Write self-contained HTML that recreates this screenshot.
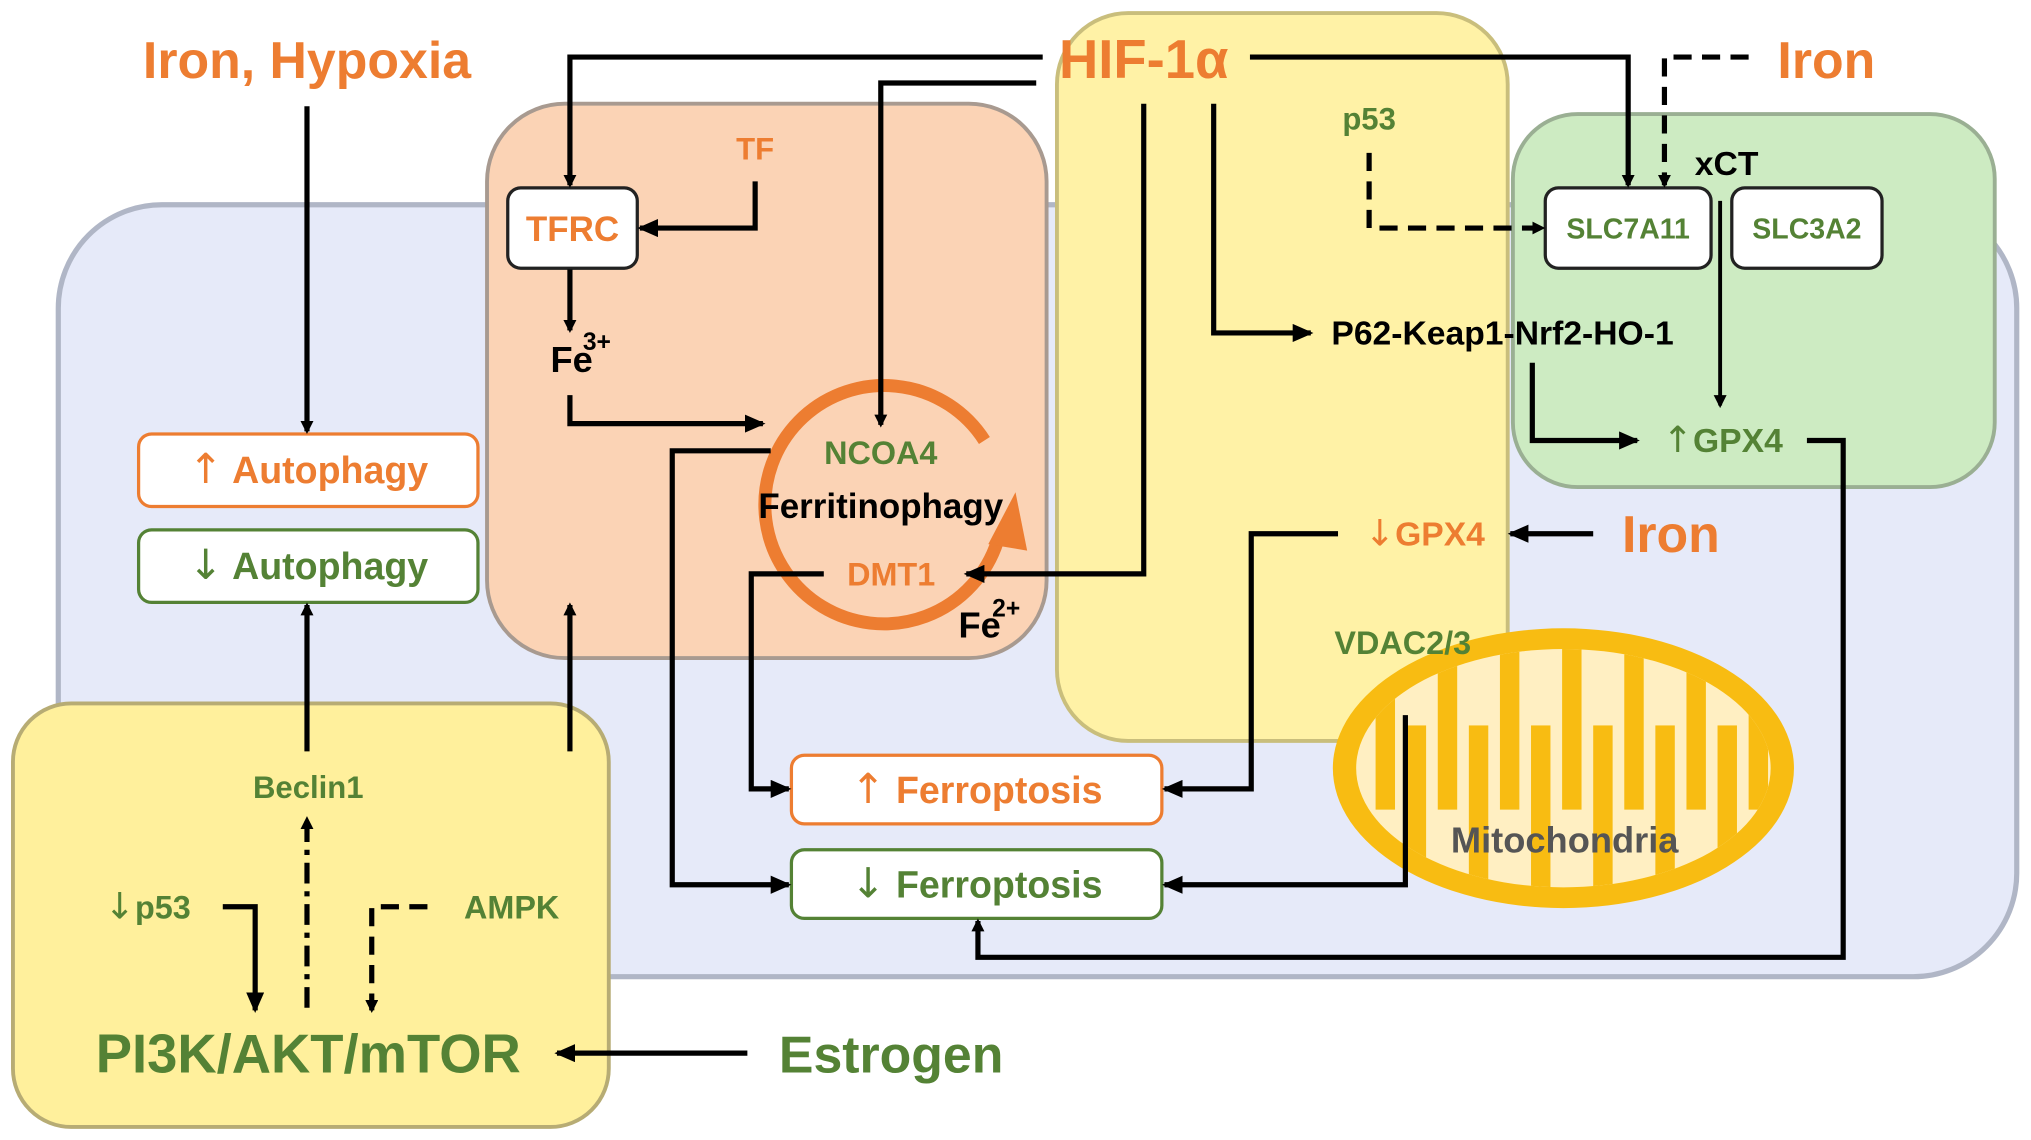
<!DOCTYPE html>
<html><head><meta charset="utf-8"><style>
html,body{margin:0;padding:0;background:#fff}
svg{display:block}
text{font-family:"Liberation Sans Narrow","Liberation Sans",sans-serif;font-weight:bold}
.o{fill:#ED7D31}.g{fill:#548235}.k{fill:#000}
.ar{font-family:"DejaVu Sans",sans-serif;font-weight:normal}
</style></head><body>
<svg width="2031" height="1140" viewBox="0 0 1568 880" xmlns="http://www.w3.org/2000/svg">
<defs>
<marker id="a" markerWidth="10" markerHeight="10" refX="8" refY="5" orient="auto" markerUnits="userSpaceOnUse" viewBox="0 0 10 10"><path d="M0,0 L10,5 L0,10 z" fill="#000"/></marker>
<marker id="ab" markerWidth="16" markerHeight="14" refX="14" refY="7" orient="auto" markerUnits="userSpaceOnUse" viewBox="0 0 16 14"><path d="M0,0 L16,7 L0,14 z" fill="#000"/></marker>
<clipPath id="mc"><ellipse cx="1207" cy="593" rx="160" ry="92"/></clipPath>
</defs>
<rect x="45" y="158" width="1512" height="596" rx="80" fill="#E6EAF9" stroke="#B0B6C6" stroke-width="4"/>
<rect x="376" y="80" width="432" height="428" rx="60" fill="#FBD3B5" stroke="#A89A90" stroke-width="3"/>
<rect x="816" y="10" width="348" height="562" rx="55" fill="#FFF2A6" stroke="#C9BE7C" stroke-width="3"/>
<rect x="1168" y="88" width="372" height="288" rx="50" fill="#CDEBC2" stroke="#9AAF93" stroke-width="3"/>
<rect x="10" y="543" width="460" height="327" rx="45" fill="#FFF09C" stroke="#B7AC74" stroke-width="3"/>

<!-- mitochondria -->
<ellipse cx="1207" cy="593" rx="178" ry="108" fill="#F8BC12"/>
<ellipse cx="1207" cy="593" rx="160" ry="92" fill="#FFEFC2"/>
<g fill="#F8BC12" clip-path="url(#mc)">
<rect x="1062" y="480" width="15" height="145"/>
<rect x="1110" y="480" width="15" height="145"/>
<rect x="1158" y="480" width="15" height="145"/>
<rect x="1206" y="480" width="15" height="145"/>
<rect x="1254" y="480" width="15" height="145"/>
<rect x="1302" y="480" width="15" height="145"/>
<rect x="1350" y="480" width="15" height="145"/>
<rect x="1086" y="560" width="15" height="150"/>
<rect x="1134" y="560" width="15" height="150"/>
<rect x="1182" y="560" width="15" height="150"/>
<rect x="1230" y="560" width="15" height="150"/>
<rect x="1278" y="560" width="15" height="150"/>
<rect x="1326" y="560" width="15" height="150"/>
</g>
<text x="1208" y="658" font-size="28" fill="#555" text-anchor="middle">Mitochondria</text>

<!-- boxes -->
<rect x="392" y="145" width="100" height="62" rx="10" fill="#fff" stroke="#222" stroke-width="2.5"/>
<text x="442" y="186" font-size="27" class="o" text-anchor="middle">TFRC</text>
<rect x="107" y="335" width="262" height="56" rx="10" fill="#fff" stroke="#ED7D31" stroke-width="2.5"/>
<text x="238" y="373" font-size="29" class="o" text-anchor="middle"><tspan class="ar" font-size="32">↑</tspan> Autophagy</text>
<rect x="107" y="409" width="262" height="56" rx="10" fill="#fff" stroke="#548235" stroke-width="2.5"/>
<text x="238" y="447" font-size="29" class="g" text-anchor="middle"><tspan class="ar" font-size="32">↓</tspan> Autophagy</text>
<rect x="611" y="583" width="286" height="53" rx="10" fill="#fff" stroke="#ED7D31" stroke-width="2.5"/>
<text x="754" y="620" font-size="29" class="o" text-anchor="middle"><tspan class="ar" font-size="32">↑</tspan> Ferroptosis</text>
<rect x="611" y="656" width="286" height="53" rx="10" fill="#fff" stroke="#548235" stroke-width="2.5"/>
<text x="754" y="693" font-size="29" class="g" text-anchor="middle"><tspan class="ar" font-size="32">↓</tspan> Ferroptosis</text>
<rect x="1193" y="145" width="128" height="62" rx="10" fill="#fff" stroke="#222" stroke-width="2.5"/>
<text x="1257" y="184" font-size="22" class="g" text-anchor="middle">SLC7A11</text>
<rect x="1337" y="145" width="116" height="62" rx="10" fill="#fff" stroke="#222" stroke-width="2.5"/>
<text x="1395" y="184" font-size="22" class="g" text-anchor="middle">SLC3A2</text>

<!-- ring -->
<path d="M760,340 A92 92 0 1 0 770,418" fill="none" stroke="#ED7D31" stroke-width="10"/>
<path d="M784,380 L763,420 L793,425 z" fill="#ED7D31"/>

<!-- texts -->
<text x="237" y="60" font-size="40" class="o" text-anchor="middle">Iron, Hypoxia</text>
<text x="883" y="60" font-size="42" class="o" text-anchor="middle">HIF-1α</text>
<text x="1410" y="60" font-size="40" class="o" text-anchor="middle">Iron</text>
<text x="583" y="123" font-size="24" class="o" text-anchor="middle">TF</text>
<text x="1057" y="100" font-size="24" class="g" text-anchor="middle">p53</text>
<text x="1333" y="135" font-size="26" class="k" text-anchor="middle">xCT</text>
<text x="425" y="287" font-size="28" class="k">Fe</text><text x="450" y="270" font-size="19" class="k">3+</text>
<text x="740" y="492" font-size="28" class="k">Fe</text><text x="766" y="476" font-size="19" class="k">2+</text>
<text x="680" y="358" font-size="25" class="g" text-anchor="middle">NCOA4</text>
<text x="680" y="400" font-size="27" class="k" text-anchor="middle">Ferritinophagy</text>
<text x="688" y="452" font-size="25" class="o" text-anchor="middle">DMT1</text>
<text x="1160" y="266" font-size="26" class="k" text-anchor="middle">P62-Keap1-Nrf2-HO-1</text>
<text x="1330" y="349" font-size="26" class="g" text-anchor="middle"><tspan class="ar" font-size="28">↑</tspan>GPX4</text>
<text x="1100" y="421" font-size="26" class="o" text-anchor="middle"><tspan class="ar" font-size="28">↓</tspan>GPX4</text>
<text x="1290" y="426" font-size="40" class="o" text-anchor="middle">Iron</text>
<text x="1083" y="505" font-size="25" class="g" text-anchor="middle">VDAC2/3</text>
<text x="238" y="616" font-size="24" class="g" text-anchor="middle">Beclin1</text>
<text x="114" y="709" font-size="25" class="g" text-anchor="middle"><tspan class="ar" font-size="28">↓</tspan>p53</text>
<text x="395" y="709" font-size="25" class="g" text-anchor="middle">AMPK</text>
<text x="238" y="828" font-size="42" class="g" text-anchor="middle">PI3K/AKT/mTOR</text>
<text x="688" y="828" font-size="40" class="g" text-anchor="middle">Estrogen</text>

<!-- connectors -->
<g fill="none" stroke="#000" stroke-width="4">
<polyline points="805,44 440,44 440,143" marker-end="url(#a)"/>
<polyline points="800,64 680,64 680,328" marker-end="url(#a)"/>
<polyline points="965,44 1257,44 1257,143" marker-end="url(#a)"/>
<polyline points="1350,44 1285,44 1285,143" stroke-dasharray="14,8" marker-end="url(#a)"/>
<polyline points="883,80 883,443 746,443" marker-end="url(#ab)"/>
<polyline points="937,80 937,257 1012,257" marker-end="url(#ab)"/>
<polyline points="1057,118 1057,176 1191,176" stroke-dasharray="14,8" marker-end="url(#a)"/>
<polyline points="1328,155 1328,313" stroke-width="3" marker-end="url(#a)"/>
<polyline points="1183,280 1183,340 1264,340" marker-end="url(#ab)"/>
<polyline points="1395,340 1423,340 1423,739 755,739 755,711" marker-end="url(#a)"/>
<polyline points="1230,412 1166,412" marker-end="url(#ab)"/>
<polyline points="1033,412 966,412 966,609 899,609" marker-end="url(#ab)"/>
<polyline points="1085,552 1085,683 899,683" marker-end="url(#ab)"/>
<polyline points="595,348 519,348 519,683 609,683" marker-end="url(#ab)"/>
<polyline points="636,443 580,443 580,609 609,609" marker-end="url(#ab)"/>
<polyline points="583,140 583,176 494,176" marker-end="url(#ab)"/>
<polyline points="440,208 440,255" marker-end="url(#a)"/>
<polyline points="440,305 440,327 589,327" marker-end="url(#ab)"/>
<polyline points="237,82 237,333" marker-end="url(#a)"/>
<polyline points="237,580 237,467" marker-end="url(#a)"/>
<polyline points="440,580 440,467" marker-end="url(#a)"/>
<polyline points="237,778 237,632" stroke-dasharray="16,6,4,6" marker-end="url(#a)"/>
<polyline points="172,700 197,700 197,780" marker-end="url(#ab)"/>
<polyline points="330,700 287,700 287,780" stroke-dasharray="14,8" marker-end="url(#a)"/>
<polyline points="577,813 430,813" marker-end="url(#ab)"/>
</g>
</svg>
</body></html>
